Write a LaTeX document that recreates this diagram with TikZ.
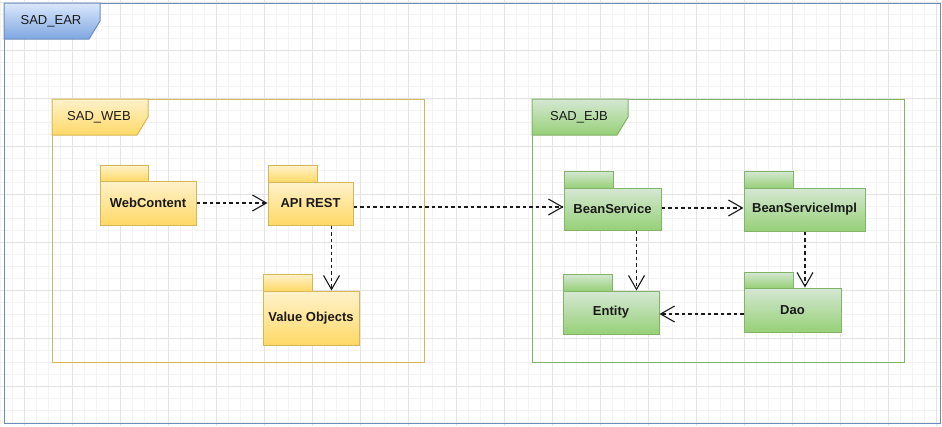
\documentclass[tikz,border=0pt]{standalone}
\usepackage{fontspec}
\setmainfont{Liberation Sans}
\usetikzlibrary{arrows.meta}
\definecolor{gridminor}{HTML}{F3F3F3}
\definecolor{gridmajor}{HTML}{E3E3E3}
\definecolor{blueline}{HTML}{6C8EBF}
\definecolor{bluetop}{HTML}{DAE8FC}
\definecolor{bluebot}{HTML}{7EA6E0}
\definecolor{yelline}{HTML}{D6B656}
\definecolor{yeltop}{HTML}{FFF2CC}
\definecolor{yelbot}{HTML}{FFD966}
\definecolor{grnline}{HTML}{82B366}
\definecolor{grntop}{HTML}{D5E8D4}
\definecolor{grnbot}{HTML}{97D077}
\definecolor{ink}{HTML}{1A1A1A}
\tikzset{
  lbl/.style={font=\fontsize{13}{15}\selectfont, text=ink},
  frame/.style={draw=#1, line width=1pt, inner sep=0pt},
  ytab/.style={draw=yelline, line width=1pt, top color=yeltop, bottom color=yelbot, inner sep=0pt},
  gtab/.style={draw=grnline, line width=1pt, top color=grntop, bottom color=grnbot, inner sep=0pt},
  ybody/.style={draw=yelline, line width=1pt, top color=yeltop, bottom color=yelbot, inner sep=0pt,
    font=\bfseries\fontsize{13}{15}\selectfont, text=ink},
  gbody/.style={draw=grnline, line width=1pt, top color=grntop, bottom color=grnbot, inner sep=0pt,
    font=\bfseries\fontsize{13}{15}\selectfont, text=ink},
  dep/.style={draw=ink, line width=1.1pt, dash pattern=on 3.5pt off 3pt,
    -{Straight Barb[length=14pt,width=16pt]}},
}
\begin{document}
\begin{tikzpicture}[x=1pt,y=-1pt]
\useasboundingbox (0,0) rectangle (942,426);
\fill[white] (0,0) rectangle (942,426);
% grid
\foreach \i in {0,...,78} {\draw[gridminor, line width=0.8pt] ({0.7+12*\i},0) -- ({0.7+12*\i},426);}
\foreach \i in {0,...,35} {\draw[gridminor, line width=0.8pt] (0,{2+12*\i}) -- (942,{2+12*\i});}
\foreach \i in {0,...,19} {\draw[gridmajor, line width=0.8pt] ({24.7+48*\i},0) -- ({24.7+48*\i},426);}
\foreach \i in {0,...,8} {\draw[gridmajor, line width=0.8pt] (0,{2+48*\i}) -- (942,{2+48*\i});}

% SAD_EAR frame
\node (ear) [frame=blueline, minimum width=936pt, minimum height=420pt] at (472,213) {};
\path[draw=blueline, line width=1pt, top color=bluetop, bottom color=bluebot]
  (4,3) -- (100,3) -- (100,21) -- (89,39) -- (4,39) -- cycle;
\node (eartab) [lbl] at (51,21) {SAD\_EAR};

% SAD_WEB frame
\node (webf) [frame=yelline, minimum width=372pt, minimum height=263pt] at (238,230.5) {};
\path[draw=yelline, line width=1pt, top color=yeltop, bottom color=yelbot]
  (52,99) -- (148,99) -- (148,117) -- (137,135) -- (52,135) -- cycle;
\node (webtab) [lbl] at (99,117) {SAD\_WEB};

% SAD_EJB frame
\node (ejbf) [frame=grnline, minimum width=372pt, minimum height=263pt] at (718,230.5) {};
\path[draw=grnline, line width=1pt, top color=grntop, bottom color=grnbot]
  (532,99) -- (628,99) -- (628,117) -- (617,135) -- (532,135) -- cycle;
\node (ejbtab) [lbl] at (579,117) {SAD\_EJB};

% yellow packages
\node (webt) [ytab, minimum width=48pt, minimum height=16pt] at (124,173) {};
\node (web) [ybody, minimum width=96pt, minimum height=44pt] at (148,203) {WebContent};
\node (apit) [ytab, minimum width=49pt, minimum height=17pt] at (292.5,173.5) {};
\node (api) [ybody, minimum width=85pt, minimum height=43pt] at (310.5,203.5) {API REST};
\node (vot) [ytab, minimum width=49pt, minimum height=17pt] at (287.5,282.5) {};
\node (vo) [ybody, minimum width=96pt, minimum height=54pt] at (311,318) {Value Objects};

% green packages
\node (bst) [gtab, minimum width=49pt, minimum height=17pt] at (588.5,179.5) {};
\node (bs) [gbody, minimum width=97pt, minimum height=42pt] at (612.5,209) {BeanService};
\node (bsit) [gtab, minimum width=49pt, minimum height=17pt] at (768.5,179.5) {};
\node (bsi) [gbody, minimum width=121pt, minimum height=43pt] at (804.5,209.5) {BeanServiceImpl};
\node (entt) [gtab, minimum width=49pt, minimum height=17pt] at (587.5,282.5) {};
\node (ent) [gbody, minimum width=96pt, minimum height=43pt] at (611,312.5) {Entity};
\node (daot) [gtab, minimum width=49pt, minimum height=16pt] at (768.5,280) {};
\node (dao) [gbody, minimum width=97pt, minimum height=44pt] at (792.5,310) {Dao};

% dependencies
\draw[dep] (web.east) -- (web.east -| api.west);
\draw[dep] ([yshift=-3.5pt]api.east) -- ([yshift=2pt]bs.west);
\draw[dep] ([yshift=1pt]bs.east) -- ([yshift=1.5pt]bsi.west);
\draw[dep] ([xshift=21pt]api.south) -- ([xshift=21pt]api.south |- vo.north);
\draw[dep] ([xshift=24pt]bs.south) -- ([xshift=24pt]bs.south |- ent.north);
\draw[dep] ([xshift=0.5pt]bsi.south) -- ([xshift=0.5pt]bsi.south |- dao.north);
\draw[dep] ([yshift=-4pt]dao.west) -- ([yshift=-4pt]dao.west -| ent.east);
\end{tikzpicture}
\end{document}
